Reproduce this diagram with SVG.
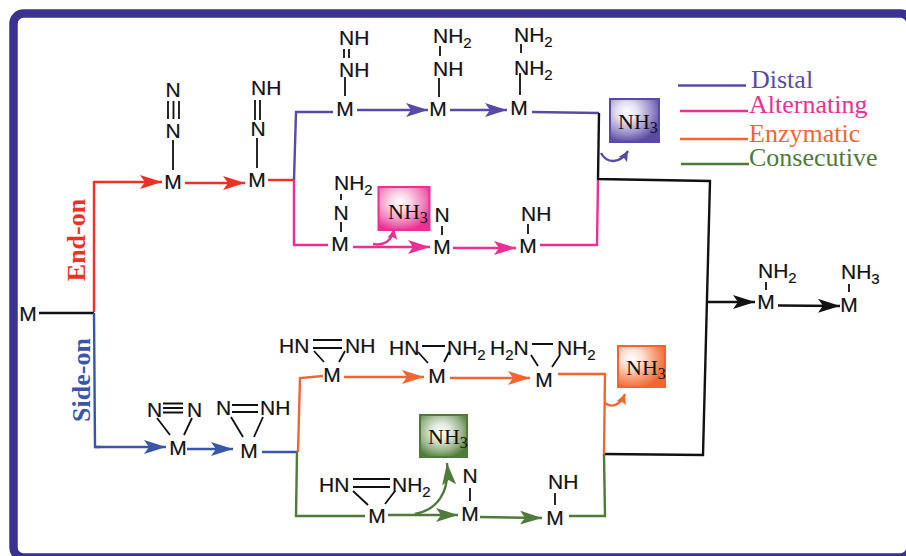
<svg xmlns="http://www.w3.org/2000/svg" width="906" height="556" viewBox="0 0 906 556">
<style>
text{font-family:"Liberation Sans",Arial,sans-serif;font-size:21px;fill:#111;stroke:#111;stroke-width:.2}
.mid{text-anchor:middle}
.s{font-size:15px}
.b{stroke:#111;stroke-width:1.8;fill:none}
.nh3{font-family:"Liberation Serif","Times New Roman",serif;font-size:22px;stroke-width:0}
.nh3 .s{font-size:16px}
.leg{font-family:"Liberation Serif","Times New Roman",serif;font-size:26px;stroke:none}
.side{font-family:"Liberation Serif","Times New Roman",serif;font-size:26px;font-weight:bold;stroke:none}
.c{fill:none;stroke-width:2.4}
.k{stroke:#111}.r{stroke:#ee3124}.u{stroke:#5b4aa5}.p{stroke:#ec2f93}.o{stroke:#f26531}.g{stroke:#4f7a3a}.l{stroke:#3a56a8}
.ak{marker-end:url(#ak)}.ar{marker-end:url(#ar)}.au{marker-end:url(#au)}.ap{marker-end:url(#ap)}.ao{marker-end:url(#ao)}.ag{marker-end:url(#ag)}.al{marker-end:url(#al)}
.ausm{marker-end:url(#aus)}.apsm{marker-end:url(#aps)}.aosm{marker-end:url(#aos)}
</style>
<defs>
<marker id="ak" markerUnits="userSpaceOnUse" markerWidth="24" markerHeight="14" refX="22" refY="7" orient="auto"><path d="M0 0L22 7L0 14L5 7Z" fill="#111"/></marker>
<marker id="ar" markerUnits="userSpaceOnUse" markerWidth="24" markerHeight="14" refX="22" refY="7" orient="auto"><path d="M0 0L22 7L0 14L5 7Z" fill="#ee3124"/></marker>
<marker id="au" markerUnits="userSpaceOnUse" markerWidth="24" markerHeight="14" refX="22" refY="7" orient="auto"><path d="M0 0L22 7L0 14L5 7Z" fill="#5b4aa5"/></marker>
<marker id="ap" markerUnits="userSpaceOnUse" markerWidth="24" markerHeight="14" refX="22" refY="7" orient="auto"><path d="M0 0L22 7L0 14L5 7Z" fill="#ec2f93"/></marker>
<marker id="ao" markerUnits="userSpaceOnUse" markerWidth="24" markerHeight="14" refX="22" refY="7" orient="auto"><path d="M0 0L22 7L0 14L5 7Z" fill="#f26531"/></marker>
<marker id="ag" markerUnits="userSpaceOnUse" markerWidth="24" markerHeight="14" refX="22" refY="7" orient="auto"><path d="M0 0L22 7L0 14L5 7Z" fill="#4f7a3a"/></marker>
<marker id="al" markerUnits="userSpaceOnUse" markerWidth="24" markerHeight="14" refX="22" refY="7" orient="auto"><path d="M0 0L22 7L0 14L5 7Z" fill="#3a56a8"/></marker>
<marker id="aus" markerUnits="userSpaceOnUse" markerWidth="12" markerHeight="12" refX="10" refY="6" orient="auto"><path d="M0 1L10 6L0 11L2 6Z" fill="#5b4aa5"/></marker>
<marker id="aps" markerUnits="userSpaceOnUse" markerWidth="12" markerHeight="12" refX="10" refY="6" orient="auto"><path d="M0 1L10 6L0 11L2 6Z" fill="#ec2f93"/></marker>
<marker id="aos" markerUnits="userSpaceOnUse" markerWidth="12" markerHeight="12" refX="10" refY="6" orient="auto"><path d="M0 1L10 6L0 11L2 6Z" fill="#f26531"/></marker>
<radialGradient id="gu" cx="35%" cy="30%" r="72%"><stop offset="0" stop-color="#fff"/><stop offset="0.3" stop-color="#e4e0f1"/><stop offset="0.7" stop-color="#9a8ecb"/><stop offset="1" stop-color="#5b4aa5"/></radialGradient>
<radialGradient id="gp" cx="42%" cy="35%" r="68%"><stop offset="0" stop-color="#fff"/><stop offset="0.3" stop-color="#fbd5e8"/><stop offset="0.7" stop-color="#f27fbb"/><stop offset="1" stop-color="#ec2f93"/></radialGradient>
<radialGradient id="go" cx="30%" cy="30%" r="75%"><stop offset="0" stop-color="#fff"/><stop offset="0.3" stop-color="#fde0d3"/><stop offset="0.7" stop-color="#f7976f"/><stop offset="1" stop-color="#f26531"/></radialGradient>
<radialGradient id="gg" cx="45%" cy="40%" r="65%"><stop offset="0" stop-color="#fff"/><stop offset="0.3" stop-color="#e2ebdc"/><stop offset="0.7" stop-color="#98b388"/><stop offset="1" stop-color="#4f7a3a"/></radialGradient>
</defs>
<rect width="906" height="556" fill="#fff"/>
<rect id="frame" x="13.500" y="13.500" width="897" height="544" rx="10" fill="none" stroke="#3a3192" stroke-width="8.500"/>

<g id="connectors">
<path class="c k" d="M39 313H94"/>
<path class="c r" d="M94 312V181"/>
<path class="c r ar" d="M94 182H162"/>
<path class="c r ar" d="M185 183H245"/>
<path class="c r" d="M268 180H294"/>
<path class="c u" d="M294 180L296 112H333"/>
<path class="c u au" d="M357 110H428"/>
<path class="c u au" d="M450 110H507"/>
<path class="c u" d="M532 112L599 113"/>
<path class="c k" d="M599 113L598 179L710 181L703 455L604 454"/>
<path class="c p" d="M294 180V245H328"/>
<path class="c p ap" d="M353 247H430"/>
<path class="c p ap" d="M453 248H516"/>
<path class="c p" d="M540 245H597L598 180"/>
<path class="c p apsm" d="M373 244C384 246 392 241 394 229"/>
<path class="c u ausm" d="M601 153C607 164 620 164 628 151"/>
<path class="c k ak" d="M706 302H755"/>
<path class="c k ak" d="M778 305.500L840 306"/>
<path class="c l" d="M94 313L95 447H100"/>
<path class="c l al" d="M95 447H166"/>
<path class="c l al" d="M187 449H233"/>
<path class="c l" d="M262 452H297"/>
<path class="c o" d="M298 452L300 378L323 376"/>
<path class="c g" d="M297 452L296 516H365"/>
<path class="c o ao" d="M344 377H424"/>
<path class="c o ao" d="M450 378H530"/>
<path class="c o" d="M558 374H605L604 454"/>
<path class="c g" d="M604 454L605 516H569"/>
<path class="c o aosm" d="M605 403C611 408 620 406 625 394"/>
<path class="c g ag" d="M388 515H458"/>
<path class="c g ag" d="M480 517L542 518"/>
<path class="c g ag" d="M415 514C436 510 450 494 447 463"/>
</g>

<g id="legend">
<path class="c u" d="M678 85.500H746"/>
<path class="c p" d="M680 111H748"/>
<path class="c o" d="M680 139H748"/>
<path class="c g" d="M681 164H749"/>
<text class="leg" x="751" y="88" style="fill:#5b4aa5">Distal</text>
<text class="leg" x="749" y="113" style="fill:#ec2f93">Alternating</text>
<text class="leg" x="749" y="142" style="fill:#f26531">Enzymatic</text>
<text class="leg" x="749" y="166" style="fill:#4f7a3a">Consecutive</text>
</g>

<g id="label-end-on"><text class="side mid" transform="translate(85 240) rotate(-90)" style="fill:#ee3124">End-on</text></g>
<g id="label-side-on"><text class="side mid" transform="translate(90 380) rotate(-90)" style="fill:#3a56a8">Side-on</text></g>

<g id="node-m0"><text x="28" y="321" class="mid">M</text></g>

<g id="node-a"><text x="173" y="189" class="mid">M</text><text x="173" y="138" class="mid">N</text><text x="173" y="97" class="mid">N</text>
<path class="b" d="M168 101V119M173.500 101V119M179 101V119M173 140V170"/></g>

<g id="node-b"><text x="257" y="187" class="mid">M</text><text x="258" y="136" class="mid">N</text><text x="251" y="95">NH</text>
<path class="b" d="M255 100V120M260 100V120M257 138V168"/></g>

<g id="node-c"><text x="345" y="116" class="mid">M</text><text x="339" y="77">NH</text><text x="339" y="45">NH</text>
<path class="b" d="M344 49V58M349 49V58M345 77V96"/></g>

<g id="node-d"><text x="438" y="116" class="mid">M</text><text x="433" y="76">NH</text><text x="433" y="43">NH<tspan class="s" dy="5">2</tspan></text>
<path class="b" d="M440 46V56M439 78V97"/></g>

<g id="node-e"><text x="519" y="115" class="mid">M</text><text x="514" y="75">NH<tspan class="s" dy="5">2</tspan></text><text x="514" y="42">NH<tspan class="s" dy="5">2</tspan></text>
<path class="b" d="M521 44V53M520 73V95"/></g>

<g id="node-f"><text x="340" y="251" class="mid">M</text><text x="341" y="220" class="mid">N</text><text x="334" y="190">NH<tspan class="s" dy="5">2</tspan></text>
<path class="b" d="M341 194V200M341 222V232"/></g>

<g id="node-g"><text x="442" y="254" class="mid">M</text><text x="442" y="222" class="mid">N</text>
<path class="b" d="M442 226V235"/></g>

<g id="node-h"><text x="528" y="253" class="mid">M</text><text x="521" y="221">NH</text>
<path class="b" d="M528 224V234"/></g>

<g id="node-i"><text x="178" y="455" class="mid">M</text><text x="147" y="417">N</text><text x="187" y="417">N</text>
<path class="b" d="M163 403.500H183M163 408H183M163 412.500H183M157 418L170 435M192 418L184 435"/></g>

<g id="node-j"><text x="249" y="458" class="mid">M</text><text x="216" y="415">N</text><text x="260" y="415">NH</text>
<path class="b" d="M232 405H258M232 412H258M231 417L243 437M263 417L254 437"/></g>

<g id="node-k"><text x="332" y="382" class="mid">M</text><text x="279" y="353">HN</text><text x="345" y="353">NH</text>
<path class="b" d="M313 340H342M313 348H342M314 351L324 362M345 351L339 362"/></g>

<g id="node-l"><text x="437" y="383" class="mid">M</text><text x="389" y="355">HN</text><text x="447" y="355">NH<tspan class="s" dy="5">2</tspan></text>
<path class="b" d="M422 346H445M418 352L428 363M449 352L444 362"/></g>

<g id="node-m"><text x="544" y="387" class="mid">M</text><text x="490" y="355">H<tspan class="s" dy="5">2</tspan><tspan dy="-5">N</tspan></text><text x="557" y="355">NH<tspan class="s" dy="5">2</tspan></text>
<path class="b" d="M532 344H553M531 355L538 366M560 355L552 367"/></g>

<g id="node-n"><text x="377" y="523" class="mid">M</text><text x="319" y="492">HN</text><text x="392" y="492">NH<tspan class="s" dy="5">2</tspan></text>
<path class="b" d="M353 479H390M353 487H390M353 491L368 505M395 491L385 504"/></g>

<g id="node-o"><text x="470" y="521" class="mid">M</text><text x="470" y="483" class="mid">N</text>
<path class="b" d="M470 488V501"/></g>

<g id="node-p"><text x="555" y="525" class="mid">M</text><text x="548" y="489">NH</text>
<path class="b" d="M555 493V505"/></g>

<g id="node-q"><text x="766" y="309" class="mid">M</text><text x="758" y="278">NH<tspan class="s" dy="5">2</tspan></text>
<path class="b" d="M766 282V290"/></g>

<g id="node-r"><text x="849" y="312" class="mid">M</text><text x="841" y="279">NH<tspan class="s" dy="5">3</tspan></text>
<path class="b" d="M849 284V292"/></g>

<g id="box-purple"><rect x="610" y="99" width="49" height="43" fill="url(#gu)" stroke="#5b4aa5" stroke-width="2"/><text class="nh3" x="618" y="129">NH<tspan class="s" dy="4">3</tspan></text></g>
<g id="box-pink"><rect x="378.500" y="187" width="51" height="43" fill="url(#gp)" stroke="#ec2f93" stroke-width="2"/><text class="nh3" x="388" y="219">NH<tspan class="s" dy="4">3</tspan></text></g>
<g id="box-orange"><rect x="618" y="346" width="47" height="41" fill="url(#go)" stroke="#f26531" stroke-width="2"/><text class="nh3" x="626" y="375">NH<tspan class="s" dy="4">3</tspan></text></g>
<g id="box-green"><rect x="420" y="415" width="47" height="42" fill="url(#gg)" stroke="#4f7a3a" stroke-width="2"/><text class="nh3" x="428" y="444">NH<tspan class="s" dy="4">3</tspan></text></g>
</svg>
